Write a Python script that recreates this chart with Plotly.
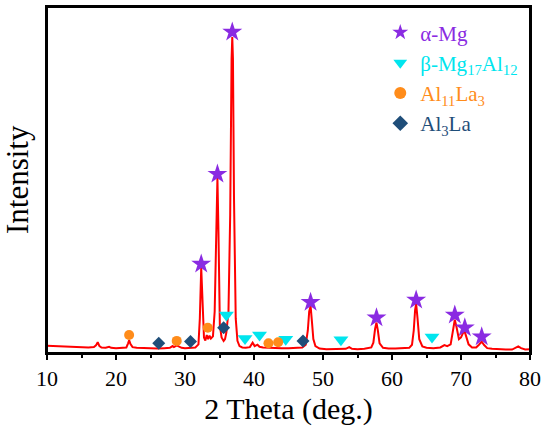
import plotly.graph_objects as go

# XRD pattern (2θ in degrees, relative intensity)
two_theta = [10.0, 11.0, 12.0, 13.0, 14.0, 15.0, 16.0, 16.8, 17.1, 17.35, 17.6, 17.9, 18.5, 19.0, 19.3,
             20.0, 21.0, 21.5, 21.75, 21.9, 22.1, 22.4, 23.0, 24.0, 25.0, 26.0, 27.0, 27.8, 28.2,
             28.4, 28.8, 29.1, 29.5, 30.0, 31.0, 31.5, 31.95, 32.15, 32.35, 32.55, 32.75, 32.95,
             33.15, 33.35, 33.55, 33.75, 34.05, 34.3, 34.55, 34.7, 34.85, 35.05, 35.3, 35.6, 35.8,
             36.0, 36.3, 36.55, 36.75, 36.85, 36.95, 37.1, 37.35, 37.6, 37.9, 38.3, 38.8, 39.4,
             39.8, 40.1, 40.5, 40.8, 41.3, 42.0, 43.0, 44.0, 45.0, 46.0, 47.0, 47.5, 47.8, 48.0,
             48.2, 48.4, 48.6, 48.9, 49.5, 50.5, 51.5, 52.5, 53.3, 53.8, 54.2, 55.0, 56.0, 57.0,
             57.3, 57.55, 57.75, 57.95, 58.2, 58.7, 59.5, 60.5, 61.5, 62.5, 62.9, 63.15, 63.35,
             63.5, 63.7, 63.95, 64.4, 65.0, 66.0, 67.0, 67.6, 68.0, 68.5, 68.8, 69.1, 69.35, 69.7,
             70.0, 70.3, 70.55, 70.8, 71.1, 71.6, 72.2, 72.6, 73.0, 73.35, 73.8, 74.5, 75.5, 76.5,
             77.4, 77.9, 78.3, 78.7, 79.3, 80.0]
intensity = [2.1, 2.0, 1.9, 1.9, 1.8, 1.7, 1.6, 1.7, 2.2, 3.1, 2.0, 1.6, 1.5, 1.8, 1.5,
             1.4, 1.4, 1.6, 2.8, 3.7, 2.6, 1.7, 1.5, 1.4, 1.3, 1.3, 1.4, 1.5, 2.0,
             1.7, 2.2, 1.8, 1.5, 1.4, 1.5, 1.6, 2.5, 10.0, 24.6, 12.0, 4.5, 3.6,
             5.2, 4.0, 5.0, 4.2, 4.8, 12.0, 40.0, 50.6, 35.0, 8.0, 4.5, 3.5, 4.0,
             6.0, 12.0, 40.0, 85.0, 91.3, 85.0, 45.0, 10.0, 3.5, 2.0, 1.6, 1.5, 1.7,
             3.0, 2.0, 2.4, 1.8, 1.6, 1.5, 1.5, 1.4, 1.4, 1.5, 1.6, 2.4, 6.5, 12.0,
             13.6, 9.0, 4.0, 2.0, 1.3, 1.1, 1.1, 1.1, 1.2, 1.7, 1.2, 1.1, 1.2, 1.6,
             3.0, 7.0, 8.8, 6.5, 2.8, 1.5, 1.3, 1.3, 1.4, 1.5, 2.4, 6.5, 12.5,
             14.2, 10.0, 4.0, 1.9, 1.5, 1.4, 1.6, 2.3, 2.0, 2.5, 6.0, 9.6, 7.5, 4.0,
             4.5, 5.8, 6.1, 4.5, 2.5, 1.6, 1.6, 2.4, 3.3, 2.3, 1.4, 1.2, 1.0, 1.0,
             1.0, 1.6, 1.9, 1.4, 1.0, 1.1]

# Phase markers
mg_x = [32.35, 34.7, 36.85, 48.2, 57.75, 63.5, 69.1, 70.55, 73.0]
mg_y = [25.7, 51.7, 92.8, 14.7, 10.2, 15.3, 11.0, 7.3, 4.7]
beta_x = [36.0, 38.7, 40.8, 44.6, 52.6, 65.8]
beta_y = [11.0, 4.2, 5.2, 4.0, 3.8, 4.6]
al11_x = [21.9, 28.8, 33.3, 42.1, 43.5]
al11_y = [5.2, 3.5, 7.3, 2.8, 3.1]
al3_x = [26.2, 30.8, 35.6, 47.1]
al3_y = [2.8, 3.3, 7.3, 3.5]

c_mg = "#8a2be2"
c_beta = "#00e5ee"
c_al11 = "#ff8c1a"
c_al3 = "#1f4e79"

FONT = "Liberation Serif"

fig = go.Figure()
fig.add_trace(go.Scatter(x=two_theta, y=intensity, mode="lines",
                         line=dict(color="#ff0000", width=2), showlegend=False))
fig.add_trace(go.Scatter(x=mg_x, y=mg_y, mode="markers",
                         marker=dict(symbol="star", size=15, color=c_mg),
                         name=f'<span style="color:{c_mg}">α-Mg</span>'))
fig.add_trace(go.Scatter(x=beta_x, y=beta_y, mode="markers",
                         marker=dict(symbol="triangle-down", size=13, color=c_beta),
                         name=f'<span style="color:{c_beta}">β-Mg<sub>17</sub>Al<sub>12</sub></span>'))
fig.add_trace(go.Scatter(x=al11_x, y=al11_y, mode="markers",
                         marker=dict(symbol="circle", size=10, color=c_al11),
                         name=f'<span style="color:{c_al11}">Al<sub>11</sub>La<sub>3</sub></span>'))
fig.add_trace(go.Scatter(x=al3_x, y=al3_y, mode="markers",
                         marker=dict(symbol="diamond", size=10, color=c_al3),
                         name=f'<span style="color:{c_al3}">Al<sub>3</sub>La</span>'))

fig.update_layout(
    width=550, height=439,
    margin=dict(l=47, r=20, t=7, b=86, autoexpand=False),
    paper_bgcolor="white", plot_bgcolor="white",
    font=dict(family=FONT, color="black", size=22),
    legend=dict(x=0.69, y=0.985, xanchor="left", yanchor="top",
                bgcolor="rgba(0,0,0,0)", font=dict(family=FONT, size=21),
                itemsizing="constant", tracegroupgap=0),
    xaxis=dict(range=[10, 80], dtick=10, ticks="outside", ticklen=5, tickwidth=1.5,
               tickcolor="black", showline=True, linecolor="black", linewidth=2,
               mirror=True, showgrid=False, zeroline=False, automargin=False,
               minor=dict(dtick=5, ticks="outside", ticklen=3, tickcolor="black", tickwidth=1.5),
               tickfont=dict(family=FONT, size=22, color="black"),
               title=dict(text="2 Theta (deg.)", font=dict(family=FONT, size=30, color="black"),
                          standoff=8)),
    yaxis=dict(range=[0, 100], showticklabels=False, ticks="", showline=True,
               linecolor="black", linewidth=2, mirror=True, showgrid=False, zeroline=False,
               automargin=False),
    shapes=[dict(type="rect", xref="paper", yref="paper", x0=0, x1=1, y0=0, y1=1,
                 line=dict(color="black", width=2), fillcolor="rgba(0,0,0,0)", layer="above")],
    annotations=[dict(text="Intensity", xref="paper", yref="paper", x=-0.062, y=0.5,
                      xanchor="center", yanchor="middle", textangle=-90, showarrow=False,
                      font=dict(family=FONT, size=31, color="black"))],
)

fig.write_html("out.html", config={"displayModeBar": False},
               post_script="document.body.style.margin='0px';document.body.style.overflow='hidden';")
